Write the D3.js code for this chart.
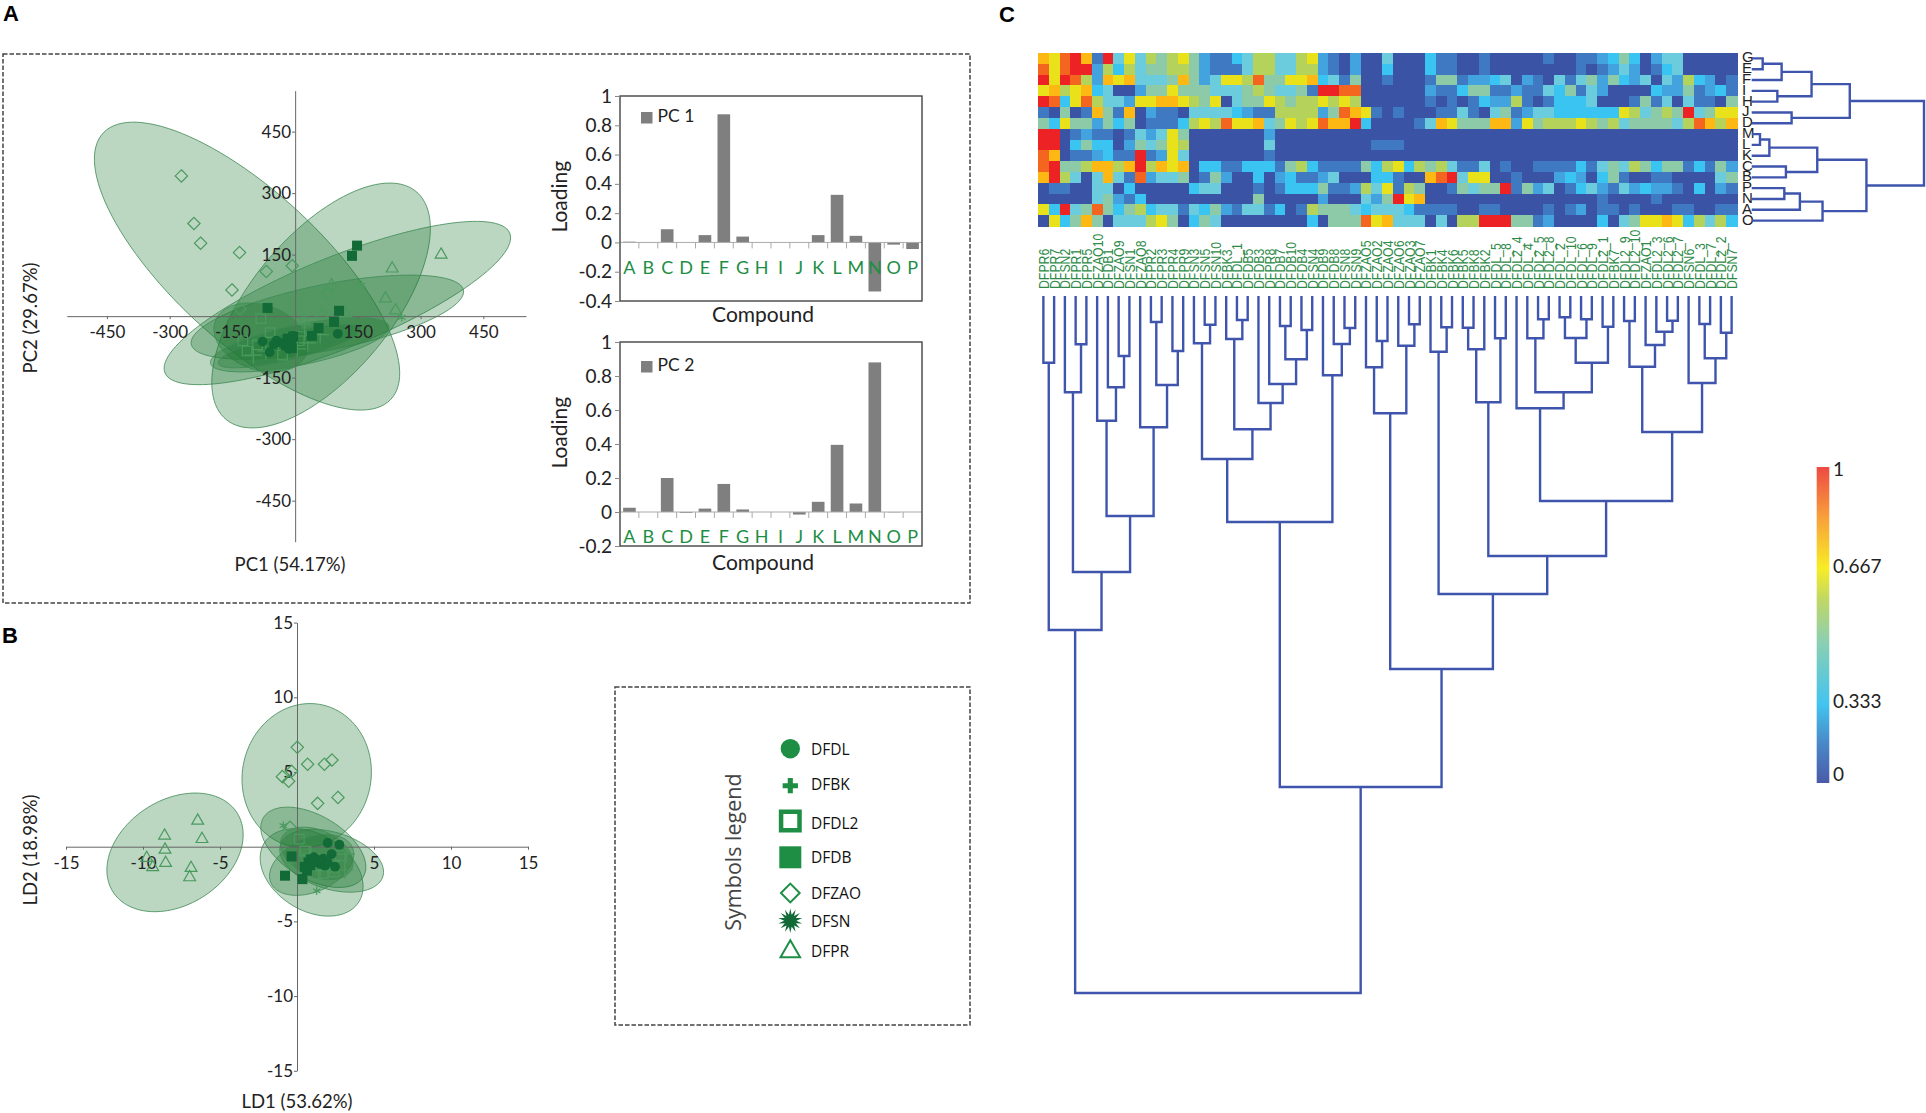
<!DOCTYPE html>
<html><head><meta charset="utf-8">
<script src="https://cdnjs.cloudflare.com/ajax/libs/d3/7.8.5/d3.min.js"></script>
<style>html,body{margin:0;background:#fff}svg{display:block}text{font-family:Lato,sans-serif;fill:#222}</style>
</head><body><svg id="c" width="1926" height="1113"></svg>
<script>
// ---------- DATA ----------
const compounds = "ABCDEFGHIJKLMNOP".split("");
const pc1Loading = [.005,.002,.09,0,.05,.875,.04,0,0,0,.05,.325,.045,-.335,-.015,-.045];
const pc2Loading = [.025,0,.2,-.005,.02,.165,.015,0,0,-.015,.06,.395,.05,.88,-.002,0];

const pcaTicks = [-450,-300,-150,150,300,450];
const ldTicks = [-15,-10,-5,5,10,15];
// ellipses: centre x, centre y, semi-major, semi-minor, angle (deg)
const pcaEllipses = [[-115,122,473,181,-43.5],[62,26,359,169,51],[101,32,446,111,22.5],[77,-2.5,332,80,11.5],[-82,-52,116,79,-20],[11,-70,218,49,12],[-14,-73,175,33,14]];
const ldEllipses = [[-7.92,-.38,4.82,3.48,35],[.63,4.76,4.84,4.18,80],[1.06,-.04,3.8,2.1,-32],[.95,-1.72,3.65,2.53,-34],[2.25,-.94,3.49,1.9,-18],[.95,-1.23,2.9,1.78,25],[1.28,-.45,2.5,1.55,-25]];

const pcaDFZAO = [[-272,342],[-242,226],[-226,178],[-133,155],[-69,109],[-7,123],[-151,64],[-132,18],[78,56]];
const pcaDFPR = [[349,150],[232,116],[87,75],[216,43],[240,14],[64,4],[21,-11],[120,7]];
const pcaDFSN = [[159,76],[255,-3],[-40,-70],[30,-45]];
const pcaDFDB = [[148,172],[136,147],[-66,20],[105,13],[93,-14],[56,-29],[40,-48],[-18,-55],[-12,-62],[-5,-50],[-22,-72],[-8,-78]];
const pcaDFDL = [[102,-43],[-6,-48],[-10,-65],[-51,-69],[-78,-62],[-61,-88],[-35,-65],[-20,-70],[-8,-58],[-45,-60],[-15,-80]];
const pcaDFDL2 = [[-82,-6],[-115,-85],[-90,-70],[-60,-40],[-30,-95],[10,-60],[-125,-60]];
const pcaDFBK = [[23,-38],[60,-45],[-100,-95],[-70,-85],[5,-80],[30,-65]];

const ldDFZAO = [[.02,6.65],[.69,5.52],[1.78,5.52],[2.27,5.8],[-.35,5.05],[-.95,4.69],[-.54,4.38],[2.66,3.3],[1.34,2.9],[-.45,1.3]];
const ldDFPR = [[-6.45,1.74],[-8.6,.74],[-6.17,.51],[-8.57,-.2],[-9.76,-.76],[-8.53,-1.09],[-6.88,-1.43],[-9.37,-1.38],[-6.97,-2.05]];
const ldDFSN = [[-.89,1.41],[1.28,-2.95],[-.45,-1.2],[2.4,-1.6]];
const ldDFDB = [[-.78,-1.94],[.35,-2.17],[-.35,-.65],[.75,-1.05],[.65,-1.6],[.85,-1.25],[.9,-.85],[.5,-1.35]];
const ldDFDL = [[1.99,.25],[2.75,.13],[2.25,-.49],[2.47,-1.34],[1.5,-1.16],[1.17,-1.05],[1.82,-1.27],[1.7,-.8],[1.1,-.7],[2,-1.05],[1.35,-.9]];
const ldDFDL2 = [[.15,.51],[2.8,-.6],[1.7,-1.8],[.5,-.3],[2.4,-1.7]];
const ldDFBK = [[3.2,-.5],[3.1,-1.56],[2.2,-1],[.9,-.5],[1.5,-1.6]];

const legendNames = ["DFDL","DFBK","DFDL2","DFDB","DFZAO","DFSN","DFPR"];

const sampleLabels = ["DFPR6","DFPR7","DFSN2","DFPR1","DFPR5","DFZAO10","DFDB1","DFZAO9","DFSN1","DFZAO8","DFPR2","DFPR3","DFPR4","DFPR9","DFSN3","DFSN5","DFSN10","DFBK3","DFDL_1","DFDB5","DFDB3","DFPR8","DFDB7","DFDB10","DFDB4","DFSN4","DFDB9","DFDB8","DFSN8","DFSN9","DFZAO5","DFZAO2","DFZAO4","DFZAO6","DFZAO3","DFZAO7","DFBK1","DFBK4","DFBK6","DFBK5","DFBK8","DFBK2","DFDL_5","DFDL_8","DFDL2_4","DFDL_4","DFDL2_5","DFDL2_8","DFDL_2","DFDL_10","DFDL_6","DFDL_9","DFDL2_1","DFBK7","DFDL2_9","DFDL2_10","DFZAO1","DFDL2_3","DFDL2_6","DFDL2_7","DFSN6","DFDL_3","DFDL_7","DFDL2_2","DFSN7"];
const rowLabels = "GEFIHJDMLKCBPNAO".split("");
// heat levels, one character per cell: 0..9 and a = 0.0..1.0
const heatRows = [
"879a81a474 6567521134 6644672102 00400031 1001000001 0011235302 4400000",
"979aa26364 5566521114 6644662102 00300031 1001000000 0010124201 3400000",
"a7a9628784 4458524776 9557783415 00100015 5122340210 4145253240 4263201",
"7867834002 5575554445 654451aa99 00000021 1355112114 3514200003 2251231",
"a937964427 7887657045 5765667676 00000010 1013226101 3334000151 4041105",
"1050185180 2110444432 1166662598 71010001 1410451244 3333337645 65a4577",
"5375525350 1113676977 845767988a 30000148 7555882756 6676564555 5469868",
"aa01211014 2475000000 0200000000 00000000 0000000000 0000000000 0000000",
"aa03533025 4576000000 0400000000 01110000 0000000000 0000000000 0000000",
"980112311a 1274000000 0100000000 00000000 0000000000 0000000000 0000000",
"9a5568868a 6878033113 3315631111 53673656 4114010011 1131454653 5513152",
"8a64048419 2445015200 3023112400 03310089 a477001000 2320351001 1000045",
"0110044030 0000344000 1013335112 64716500 15455a1524 0134214232 2103021",
"0000045213 0000000000 5000002000 425a7800 0000000000 0000100001 0000000",
"73a4595356 3441435214 4130165554 34443111 1001100001 0120110100 0110011",
"0735850444 6750354000 0000030555 97844404 066aaa5512 0000304577 8736463"];
const heatStops = ["#3a53a4","#3f79c2","#43a3de","#3ac4f2","#6accdc","#8ccaa8","#b5d35a","#e9e21a","#fdb813","#f4651f","#ed2224"];
const colorbarTicks = [0,.333,.667,1];

// dendrograms: [left, right, linkage distance]; a plain number is a leaf
const colTree = [
 [[1,2,66.7],[[3,[4,5,48.3],96.3],[[6,[7,[8,9,60],91.3],124.7],[10,[[11,12,26],[13,14,55],89],131.3],220],276],334],
 [[[[15,[16,17,28.7],47.3],[[18,[19,20,24],43],[21,[22,[[23,24,30],[25,26,34],63.3],88],107],133.3],163],[27,[28,[29,30,32],48],79.3],226],
  [[[31,[32,33,45],71.3],[34,[35,36,28.3],49.7],117.3],
   [[37,[38,39,31.3],55.7],
    [[[[40,41,31.7],42,53.3],[43,44,42.3],106.3],
     [[45,[[46,[47,48,23.3],42.3],[[[49,50,21.3],[51,52,23.3],42],[53,54,30.7],66.7],96.3],112.3],
      [[[55,56,25],[57,[58,[59,60,24.7],35.7],49],70.7],[61,[[62,63,28],[64,65,36.7],62.3],87],136],205],260],298],373],491],697];
const rowTree = [[[[[1,2,11],3,30],[4,5,25.7],60],[6,7,40],98.3],[[[[8,9,8.3],10,17.7],[11,12,34.3],65.7],[[[13,14,32.7],15,48.3],16,71],115],172.7];

// ---------- DRAW ----------
const svg = d3.select("#c");
const GREEN="#1e8e45", DARK="#126a37", LINE="#4a9a5e";

function dashedBox(x0,y0,x1,y1){
  svg.append("rect").attr("x",x0).attr("y",y0).attr("width",x1-x0).attr("height",y1-y0)
    .attr("fill","none").attr("stroke","#444").attr("stroke-width",1.5).attr("stroke-dasharray","4.5 2");
}
dashedBox(3,54,970,603);
dashedBox(615,687,970,1025);

[["A",3,20.5],["B",2,643],["C",999,21.5]].forEach(d=>svg.append("text").text(d[0]).attr("x",d[1]).attr("y",d[2])
  .style("font-family","'Liberation Sans'").style("font-weight","bold").style("font-size","22px").style("fill","#000"));

const burstPts = d3.range(28).map(i=>[i/28*2*Math.PI,(i%2?.5:1)]);
const burst = {draw(ctx,size){const r=Math.sqrt(size);burstPts.forEach((p,i)=>{const x=r*p[1]*Math.sin(p[0]),y=-r*p[1]*Math.cos(p[0]);i?ctx.lineTo(x,y):ctx.moveTo(x,y)});ctx.closePath()}};
const diamond = {draw(ctx,size){const r=Math.sqrt(size);ctx.moveTo(0,-r);ctx.lineTo(r,0);ctx.lineTo(0,r);ctx.lineTo(-r,0);ctx.closePath()}};

function scatter(opts){
  const {x,y,xt,yt,ell,series,xl,yl}=opts;
  const g=svg.append("g");
  const line=d3.line();
  ell.forEach(e=>{
    const th=e[4]*Math.PI/180;
    const pts=d3.range(0,361,3).map(t=>{const a=t*Math.PI/180,u=e[2]*Math.cos(a),v=e[3]*Math.sin(a);
      return [x(e[0]+u*Math.cos(th)-v*Math.sin(th)),y(e[1]+u*Math.sin(th)+v*Math.cos(th))]});
    g.append("path").attr("d",line(pts)).attr("fill","rgb(30,120,50)").attr("fill-opacity",.3)
      .attr("stroke","#3f8a55").attr("stroke-opacity",.8).attr("stroke-width",1);
  });
  const ax=g.append("g").attr("transform",`translate(0,${y(0)})`).call(d3.axisBottom(x).tickValues(xt).tickFormat(String).tickSize(3).tickPadding(opts.pad).tickSizeOuter(0));
  const ay=g.append("g").attr("transform",`translate(${x(0)},0)`).call(d3.axisLeft(y).tickValues(yt).tickFormat(String).tickSize(3).tickPadding(1).tickSizeOuter(0));
  [ax,ay].forEach(a=>{a.selectAll("path,line").attr("stroke","#666");a.selectAll("text").style("font-family","Lato").style("font-size","17px").style("fill","#222")});
  series.forEach(s=>{
    g.append("g").selectAll("path").data(s.data).join("path")
     .attr("transform",d=>`translate(${x(d[0])},${y(d[1])})`)
     .attr("d",d3.symbol(s.type,s.size))
     .attr("fill",s.fill?DARK:"none").attr("stroke",s.fill?"none":s.stroke||LINE).attr("stroke-width",1.2);
  });
  g.append("text").text(xl[0]).attr("x",xl[1]).attr("y",xl[2]).attr("text-anchor","middle").style("font-size","18.5px");
  g.append("text").text(yl[0]).attr("transform",`translate(${yl[1]},${yl[2]}) rotate(-90)`).attr("text-anchor","middle").style("font-size","18.5px");
}

const mk=(dl,bk,dl2,db,zao,sn,pr)=>[
 {data:zao,type:diamond,size:38},{data:pr,type:d3.symbolTriangle,size:60},
 {data:dl2,type:d3.symbolSquare,size:90},{data:bk,type:d3.symbolPlus,size:100},
 {data:sn,type:d3.symbolAsterisk,size:50},{data:db,type:d3.symbolSquare,size:100,fill:true},{data:dl,type:d3.symbolCircle,size:75,fill:true}];

scatter({x:d3.scaleLinear([-546,552],[66.8,526]),y:d3.scaleLinear([-550,550],[541.7,90.6]),xt:pcaTicks,yt:pcaTicks,pad:7,
  ell:pcaEllipses,series:mk(pcaDFDL,pcaDFBK,pcaDFDL2,pcaDFDB,pcaDFZAO,pcaDFSN,pcaDFPR),
  xl:["PC1 (54.17%)",290,571],yl:["PC2 (29.67%)",37,318]});
scatter({x:d3.scaleLinear([-15,15],[66,528]),y:d3.scaleLinear([-15,15],[1070.8,622.6]),xt:ldTicks,yt:ldTicks,pad:7,
  ell:ldEllipses,series:mk(ldDFDL,ldDFBK,ldDFDL2,ldDFDB,ldDFZAO,ldDFSN,ldDFPR),
  xl:["LD1 (53.62%)",297,1108],yl:["LD2 (18.98%)",37,850]});

function bars(vals,dom,top,bottom,name,ticks,legY,catY,compY,loadY){
  const x=d3.scaleBand(compounds,[620,922]).paddingInner(.33).paddingOuter(.165);
  const y=d3.scaleLinear(dom,[bottom,top]);
  const step=x.step();
  const g=svg.append("g");
  g.selectAll("rect.b").data(vals).join("rect").attr("class","b")
   .attr("x",(d,i)=>x(compounds[i])).attr("width",x.bandwidth())
   .attr("y",d=>Math.min(y(d),y(0))).attr("height",d=>Math.abs(y(d)-y(0))).attr("fill","#7f7f7f");
  g.append("line").attr("x1",620).attr("x2",922).attr("y1",y(0)).attr("y2",y(0)).attr("stroke","#aaa");
  g.selectAll("line.t").data(compounds.slice(1)).join("line").attr("class","t")
   .attr("x1",d=>x(d)-(step-x.bandwidth())/2).attr("x2",d=>x(d)-(step-x.bandwidth())/2)
   .attr("y1",y(0)).attr("y2",y(0)+6).attr("stroke","#aaa");
  g.append("rect").attr("x",620).attr("y",top).attr("width",302).attr("height",bottom-top).attr("fill","none").attr("stroke","#444").attr("stroke-width",1.4);
  const a=g.append("g").attr("transform","translate(620,0)").call(d3.axisLeft(y).tickValues(ticks).tickFormat(String).tickSize(5).tickPadding(3).tickSizeOuter(0));
  a.select("path").remove();
  a.selectAll("line").attr("stroke","#888");
  a.selectAll("text").style("font-family","Lato").style("font-size","19px").style("fill","#222");
  g.selectAll("text.c").data(compounds).join("text").attr("class","c").text(d=>d)
   .attr("x",d=>x(d)+x.bandwidth()/2).attr("y",catY).attr("text-anchor","middle").attr("dominant-baseline","middle")
   .style("font-size","18px").style("fill",GREEN);
  g.append("rect").attr("x",641).attr("y",legY-5.5).attr("width",11.5).attr("height",11.5).attr("fill","#7f7f7f");
  g.append("text").text(name).attr("x",657.5).attr("y",legY).attr("dominant-baseline","middle").style("font-size","17.5px");
  g.append("text").text("Compound").attr("x",763).attr("y",compY).attr("text-anchor","middle").attr("dominant-baseline","middle").style("font-size","21px");
  g.append("text").text("Loading").attr("transform",`translate(562,${loadY}) rotate(-90)`).attr("text-anchor","middle").attr("dominant-baseline","middle").style("font-size","21px");
}
bars(pc1Loading,[-.4,1],96,301,"PC 1",[-.4,-.2,0,.2,.4,.6,.8,1],117.5,269,317,196.7);
bars(pc2Loading,[-.2,1],342,546,"PC 2",[-.2,0,.2,.4,.6,.8,1],366.5,538,565,432.7);

// symbols legend
const lx=790.3, lg=svg.append("g");
const legendMarks=[
 {y:748.7,type:d3.symbolCircle,size:295,fill:GREEN},
 {y:785.7,type:d3.symbolCross,size:130,fill:GREEN},
 {y:821,type:d3.symbolSquare,size:340,stroke:GREEN,sw:4.5},
 {y:857.3,type:d3.symbolSquare,size:484,fill:GREEN},
 {y:893,type:diamond,size:88,stroke:GREEN,sw:2},
 {y:920.7,type:burst,size:150,fill:DARK},
 {y:951.5,type:d3.symbolTriangle,size:165,stroke:GREEN,sw:2}];
legendMarks.forEach(m=>lg.append("path").attr("transform",`translate(${lx},${m.y})`).attr("d",d3.symbol(m.type,m.size))
  .attr("fill",m.fill||"none").attr("stroke",m.stroke||"none").attr("stroke-width",m.sw||0));
const legendTextY=[751,786,825,859,895,923,953];
legendNames.forEach((n,i)=>lg.append("text").text(n).attr("x",811).attr("y",legendTextY[i]).attr("dominant-baseline","middle")
  .style("font-family","'Open Sans'").style("font-size","15.5px").style("fill","#111"));
lg.append("text").text("Symbols legend").attr("transform","translate(735,852) rotate(-90)").attr("text-anchor","middle").attr("dominant-baseline","middle")
  .style("font-family","'Open Sans'").style("font-size","21.5px").style("fill","#444");

// heatmap
const heatColor=d3.scaleLinear(d3.range(11).map(i=>i/10),heatStops);
const hx=d3.scaleBand(d3.range(65),[1038,1737]);
const hy=d3.scaleBand(d3.range(16),[53,226]);
const cells=heatRows.flatMap((r,ri)=>r.replace(/ /g,"").split("").map((c,ci)=>({ri,ci,v:parseInt(c,16)/10})));
svg.append("g").attr("shape-rendering","crispEdges").selectAll("rect").data(cells).join("rect")
  .attr("x",d=>hx(d.ci)).attr("y",d=>hy(d.ri)).attr("width",hx.bandwidth()+.5).attr("height",hy.bandwidth()+.5).attr("fill",d=>heatColor(d.v));

svg.append("g").selectAll("text").data(rowLabels).join("text").text(d=>d)
  .attr("x",1742).attr("y",(d,i)=>hy(i)+hy.bandwidth()/2).attr("dominant-baseline","middle")
  .style("font-family","'Liberation Sans'").style("font-size","15px").style("fill","#222");
svg.append("g").selectAll("text").data(sampleLabels).join("text").text(d=>d)
  .attr("transform",(d,i)=>`translate(${hx(i)+hx.bandwidth()/2+5.5},289) rotate(-90) scale(.82,1)`)
  .style("font-family","'Liberation Sans'").style("font-size","15px").style("fill","#2c8a47");

// dendrograms
const dendroColor="#3f55ad";
const cd=d3.scaleLinear([0,697],[296,993]);
const tg=svg.append("g").attr("fill","none").attr("stroke",dendroColor).attr("stroke-width",2.4);
(function walk(n){
  if(typeof n==="number") return {x:hx(n-1)+hx.bandwidth()/2,d:0};
  const a=walk(n[0]),b=walk(n[1]);
  tg.append("path").attr("d",`M${a.x},${cd(a.d)}V${cd(n[2])}H${b.x}V${cd(b.d)}`);
  return {x:(a.x+b.x)/2,d:n[2]};
})(colTree);
const rd=d3.scaleLinear([0,172.7],[1751.7,1924]);
(function walk(n){
  if(typeof n==="number") return {y:hy(n-1)+hy.bandwidth()/2,d:0};
  const a=walk(n[0]),b=walk(n[1]);
  tg.append("path").attr("d",`M${rd(a.d)},${a.y}H${rd(n[2])}V${b.y}H${rd(b.d)}`);
  return {y:(a.y+b.y)/2,d:n[2]};
})(rowTree);

// colour bar
const defs=svg.append("defs");
const grad=defs.append("linearGradient").attr("id","cb").attr("x1",0).attr("x2",0).attr("y1",1).attr("y2",0);
[[0,"#4a5aa8"],[.12,"#4a86c6"],[.25,"#42c4f0"],[.45,"#8dcfb0"],[.58,"#c0d765"],[.68,"#f8ed25"],[.84,"#f8a03a"],[1,"#ee4a42"]]
  .forEach(s=>grad.append("stop").attr("offset",s[0]).attr("stop-color",s[1]));
svg.append("rect").attr("x",1816.7).attr("y",467).attr("width",12.6).attr("height",316).attr("fill","url(#cb)");
const cbY=d3.scaleLinear(colorbarTicks,[775.7,703,568,470.7]);
svg.append("g").selectAll("text").data(colorbarTicks).join("text").text(d=>String(d))
  .attr("x",1833).attr("y",d=>cbY(d)).attr("dominant-baseline","middle").style("font-size","19px").style("fill","#222");
</script></body></html>
